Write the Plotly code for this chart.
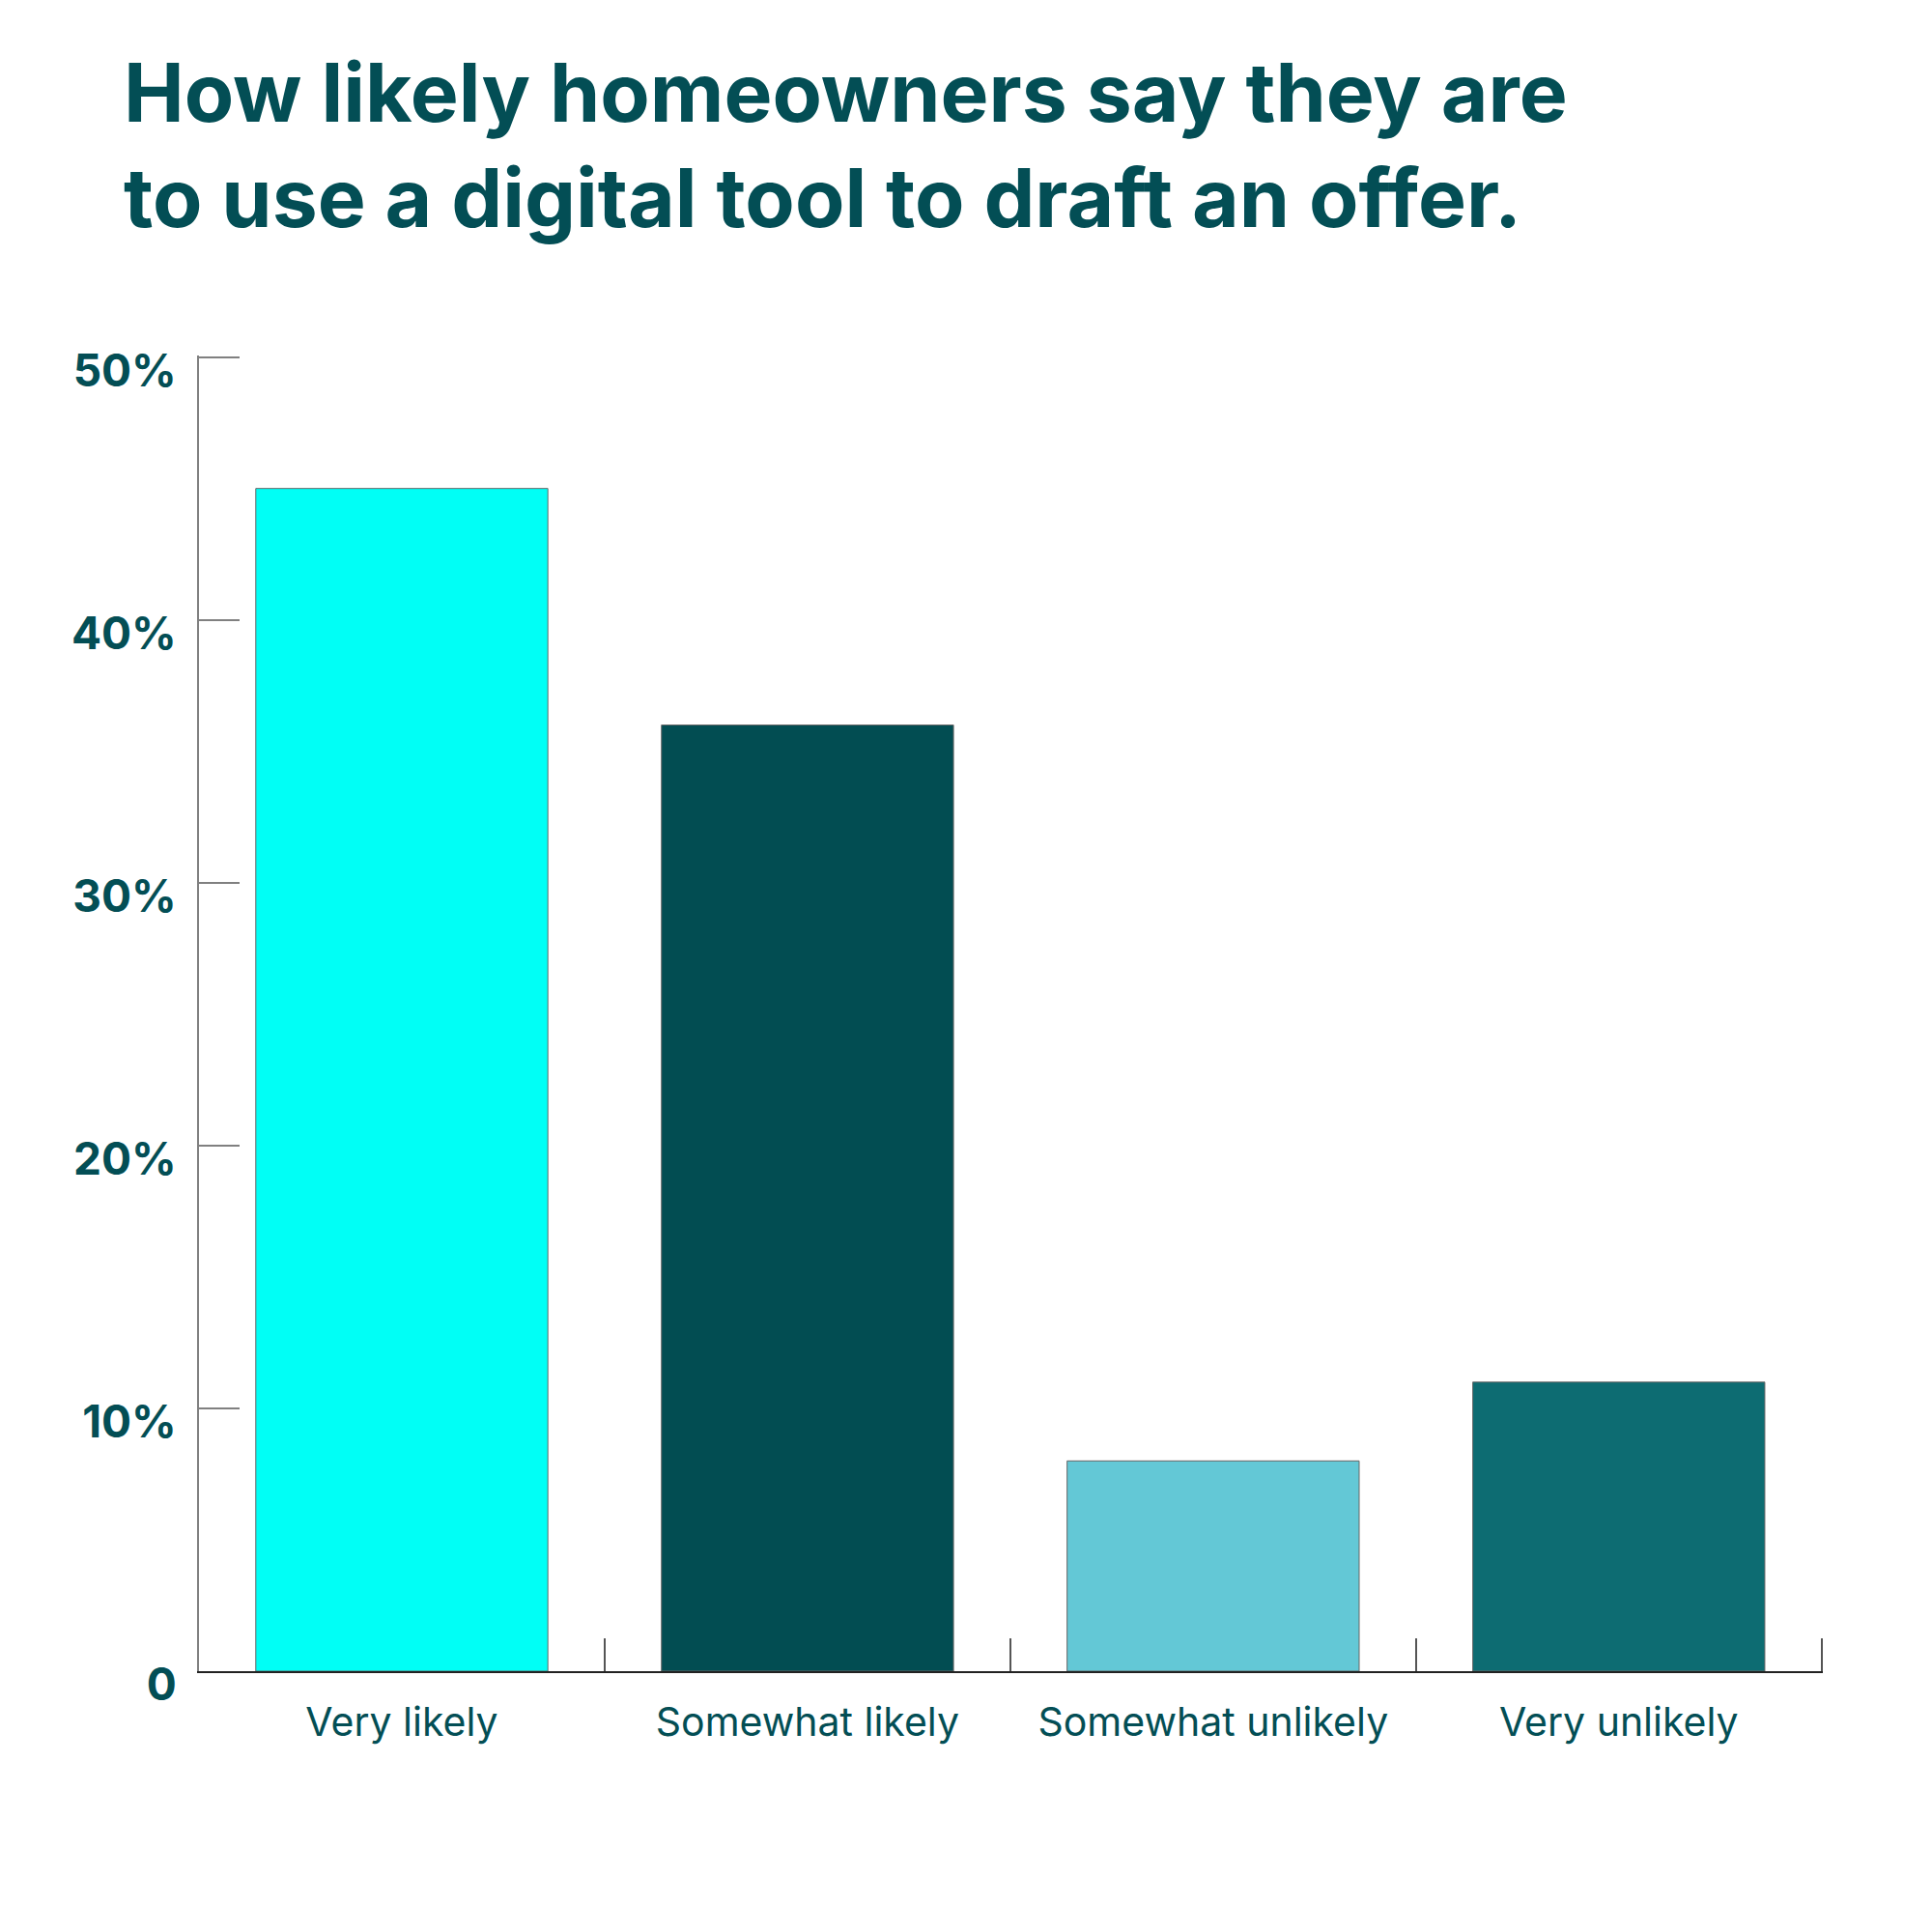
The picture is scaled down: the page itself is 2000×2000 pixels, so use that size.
import plotly.graph_objects as go

# Survey answers and share of homeowners (%)
categories = ["Very likely", "Somewhat likely", "Somewhat unlikely", "Very unlikely"]
shares = [45, 36, 8, 11]
bar_colors = ["#00FFF6", "#024D52", "#63C8D6", "#0D6C72"]

# y axis ticks
y_ticks = [0, 10, 20, 30, 40, 50]
y_tick_text = ["0", "10%", "20%", "30%", "40%", "50%"]

TEAL_TEXT = "#034E55"

fig = go.Figure()

fig.add_trace(go.Bar(
    x=categories,
    y=shares,
    marker=dict(color=bar_colors, line=dict(color="#666666", width=1)),
    hoverinfo="x+y",
))

fig.update_layout(
    width=2000,
    height=2000,
    paper_bgcolor="white",
    plot_bgcolor="white",
    font=dict(family="Inter", color=TEAL_TEXT),
    title=dict(
        text="How likely homeowners say they are<br>to use a digital tool to draft an offer.",
        font=dict(family="Inter", size=84, color=TEAL_TEXT, weight="bold"),
        xref="container", yref="container",
        x=0.06, xanchor="left",
        y=0.941, yanchor="top",
    ),
    margin=dict(l=198, r=121, t=360, b=278),
    bargap=0.28,
    showlegend=False,
)

# tiny range padding so the end ticks are still drawn
fig.update_xaxes(
    type="category",
    range=[-0.5, 3.503],
    showline=True, linecolor="#222222", linewidth=2,
    ticks="inside", tickson="boundaries", ticklen=34, tickwidth=1.5, tickcolor="#555555",
    tickfont=dict(size=41, color=TEAL_TEXT),
    ticklabelstandoff=16,
    showgrid=False, zeroline=False,
)

fig.update_yaxes(
    range=[0, 50.06],
    tickvals=y_ticks, ticktext=y_tick_text,
    showline=True, linecolor="#808080", linewidth=2,
    ticks="inside", ticklen=42, tickwidth=2, tickcolor="#808080",
    tickfont=dict(size=46, color=TEAL_TEXT, weight="bold"),
    ticklabelstandoff=12, ticklabelshift=14,
    showgrid=False, zeroline=False,
)

fig.write_html("out.html")
